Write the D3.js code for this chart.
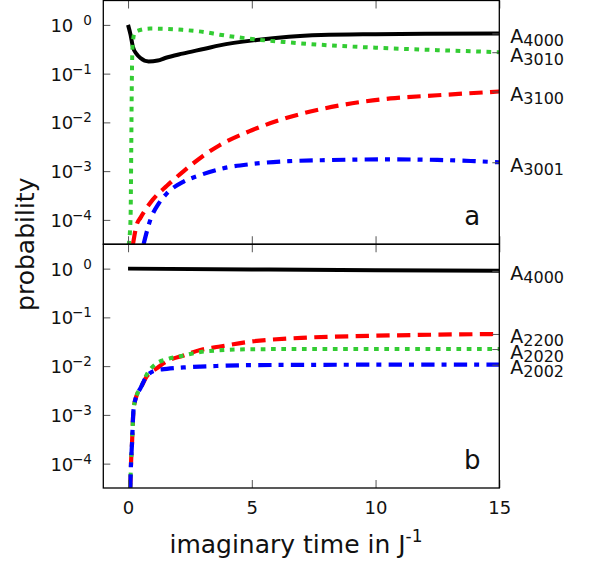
<!DOCTYPE html>
<html>
<head>
<meta charset="utf-8">
<script src="https://cdn.jsdelivr.net/npm/d3@7"></script>
<style>
  body { margin: 0; background: #fff; }
  text { font-family: "DejaVu Sans", sans-serif; fill: #111; }
</style>
</head>
<body>
<div class="chart"></div>
<script>
// ---- data ----
// panel a
var tA4000a = [0, 0.1, 0.2, 0.35, 0.5, 0.83, 1.2, 1.5, 2.2, 3.1, 3.7, 5.2, 6.5, 7.8, 10, 12, 15];
var pA4000a = [1.0, 0.63, 0.347, 0.251, 0.209, 0.178, 0.186, 0.209, 0.257, 0.324, 0.38, 0.49, 0.569, 0.617, 0.646, 0.661, 0.668];

var tA3010a = [0.02, 0.1, 0.13, 0.15, 0.18, 0.25, 0.4, 0.9, 1.5, 2.2, 3.1, 3.7, 5.2, 6.5, 7.8, 10, 12, 15];
var pA3010a = [3e-5, 1e-4, 3e-3, 0.05, 0.35, 0.65, 0.76, 0.84, 0.83, 0.79, 0.71, 0.63, 0.5, 0.437, 0.39, 0.34, 0.31, 0.275];

var tA3100a = [0.2, 0.35, 0.5, 1.0, 1.57, 2.25, 3.0, 3.7, 5.0, 7.0, 8.5, 10.6, 12.5, 15];
var pA3100a = [3.2e-5, 8e-5, 1.1e-4, 2.6e-4, 5e-4, 1e-3, 2e-3, 3.4e-3, 6.9e-3, 0.015, 0.022, 0.031, 0.036, 0.043];

var tA3001a = [0.63, 0.9, 1.25, 1.57, 2.25, 2.92, 3.7, 5, 6.5, 8, 10.6, 12.5, 14, 15];
var pA3001a = [3.2e-5, 1e-4, 2.2e-4, 3.5e-4, 6.1e-4, 8.3e-4, 1.1e-3, 1.4e-3, 1.6e-3, 1.68e-3, 1.74e-3, 1.7e-3, 1.6e-3, 1.52e-3];

// panel b
var tA4000b = [0, 5, 10, 15];
var pA4000b = [1.0, 0.96, 0.925, 0.9];

var tEarly = [0.09, 0.12, 0.16, 0.22, 0.36, 0.5];
var tLate = [0.77, 1.17, 1.57, 2.25, 2.92, 3.66, 5, 7, 10, 15];
var tA2200b = tEarly.concat(tLate);
var pA2200b = [3.2e-5, 1e-4, 2.6e-4, 1.26e-3, 2.6e-3, 3.5e-3,
               6.3e-3, 9.1e-3, 0.0126, 0.0166, 0.0214, 0.025, 0.032, 0.038, 0.042, 0.0457];
var tA2020b = tEarly.concat(tLate);
var pA2020b = [3.2e-5, 1e-4, 2.6e-4, 1.26e-3, 2.6e-3, 3.5e-3,
               7e-3, 0.0115, 0.0138, 0.0166, 0.0195, 0.021, 0.0222, 0.0224, 0.0224, 0.0224];
var tA2002b = tEarly.concat(tLate);
var pA2002b = [3.2e-5, 1e-4, 2.6e-4, 1.26e-3, 2.6e-3, 3.5e-3,
               6.4e-3, 8.3e-3, 8.8e-3, 9.4e-3, 9.8e-3, 0.0101, 0.0105, 0.0106, 0.0107, 0.0107];

var xTicks = [0, 5, 10, 15];
var yTickExps = [0, -1, -2, -3, -4];

var svgWidth = 590;
var svgHeight = 570;

var margin = { top: 0.5, bottom: 82, right: 90.7, left: 103.3 };
var width = svgWidth - margin.left - margin.right;
var panelH = (svgHeight - margin.top - margin.bottom) / 2;

var svg = d3.select(".chart")
  .append("svg")
  .attr("width", svgWidth)
  .attr("height", svgHeight);

var x = d3.scaleLinear().domain([-1, 15]).range([0, width]);

var line = function(y) {
  return d3.line()
    .x(d => x(d[0]))
    .y(d => y(d[1]))
    .curve(d3.curveMonotoneX);
};

function zip(t, p) { return t.map((v, i) => [v, p[i]]); }

var styles = {
  black: { color: "#000000", width: 4, dash: null },
  red:   { color: "#ff0000", width: 4.2, dash: "13.3,7.4" },
  green: { color: "#33cc33", width: 4, dash: "4.7,5.6" },
  blue:  { color: "#0000ff", width: 4.2, dash: "13.3,7,5,7.3" }
};

var panels = [
  { id: "a", top: margin.top, series: [
      { name: "4000", t: tA4000a, p: pA4000a, s: "black" },
      { name: "3100", t: tA3100a, p: pA3100a, s: "red" },
      { name: "3010", t: tA3010a, p: pA3010a, s: "green" },
      { name: "3001", t: tA3001a, p: pA3001a, s: "blue" }
    ] },
  { id: "b", top: margin.top + panelH, series: [
      { name: "4000", t: tA4000b, p: pA4000b, s: "black" },
      { name: "2200", t: tA2200b, p: pA2200b, s: "red" },
      { name: "2020", t: tA2020b, p: pA2020b, s: "green" },
      { name: "2002", t: tA2002b, p: pA2002b, s: "blue" }
    ] }
];

panels.forEach(function(panel, pi) {
  var g = svg.append("g")
    .attr("transform", `translate(${margin.left}, ${panel.top})`);

  var y = d3.scaleLog()
    .domain([Math.pow(10, -4.5), Math.pow(10, 0.5)])
    .range([panelH, 0]);

  g.append("clipPath").attr("id", "clip" + panel.id)
    .append("rect").attr("width", width).attr("height", panelH);

  // curves
  var curves = g.append("g").attr("clip-path", `url(#clip${panel.id})`);
  panel.series.forEach(function(sr) {
    var st = styles[sr.s];
    curves.append("path")
      .datum(zip(sr.t, sr.p))
      .attr("d", line(y))
      .attr("fill", "none")
      .attr("stroke", st.color)
      .attr("stroke-width", st.width)
      .attr("stroke-dasharray", st.dash);
  });

  // left axis, ticks pointing in
  g.append("g")
    .call(d3.axisLeft(y)
      .tickValues(yTickExps.map(e => Math.pow(10, e)))
      .tickSize(-7)
      .tickFormat(""))
    .selectAll("text").remove();

  // tick labels 10^n, right edge fixed
  yTickExps.forEach(function(e) {
    var yy = y(Math.pow(10, e));
    g.append("text")
      .attr("x", -11.5)
      .attr("y", yy)
      .attr("text-anchor", "end")
      .style("font-size", "13.5px")
      .text(e === 0 ? "0" : "\u2212" + Math.abs(e));
    g.append("text")
      .attr("x", -30)
      .attr("y", yy + 7)
      .attr("text-anchor", "end")
      .style("font-size", "18px")
      .text("10");
  });

  // right axis with series names
  var rightVals = panel.series.map(sr => sr.p[sr.p.length - 1]);
  var rAxis = g.append("g")
    .attr("transform", `translate(${width}, 0)`)
    .call(d3.axisRight(y)
      .tickValues(rightVals)
      .tickSize(-7)
      .tickPadding(11)
      .tickFormat(""));
  rAxis.selectAll("text").each(function(d, i) {
    var t = d3.select(this).attr("dy", 9).style("font-size", "19px");
    t.append("tspan").text("A");
    t.append("tspan")
      .attr("dy", 3)
      .style("font-size", "16px")
      .text(panel.series[i].name);
  });

  // x ticks on top and bottom edge
  g.append("g")
    .call(d3.axisTop(x).tickValues(xTicks).tickSize(-8).tickFormat(""));
  var xb = g.append("g")
    .attr("transform", `translate(0, ${panelH})`)
    .call(d3.axisBottom(x).tickValues(xTicks).tickSize(-8)
      .tickPadding(13)
      .tickFormat(pi === 1 ? d3.format("d") : ""));
  xb.selectAll("text").style("font-size", "18px");

  svg.selectAll(".domain").remove();
  g.selectAll(".tick line").attr("stroke", "#555").attr("stroke-width", 1);

  // frame
  g.append("rect")
    .attr("width", width)
    .attr("height", panelH)
    .attr("fill", "none")
    .attr("stroke", "#000")
    .attr("stroke-width", 1.3);

  // panel letter
  g.append("text")
    .attr("x", width - 27)
    .attr("y", panelH - 19)
    .attr("text-anchor", "middle")
    .style("font-size", "26px")
    .text(panel.id);
});

// axis titles
svg.append("text")
  .attr("transform", `translate(34, ${margin.top + panelH}) rotate(-90)`)
  .attr("text-anchor", "middle")
  .style("font-size", "25px")
  .text("probability");

var xl = svg.append("text")
  .attr("x", 296)
  .attr("y", 553)
  .attr("text-anchor", "middle")
  .style("font-size", "25px");
xl.append("tspan").text("imaginary time in J");
xl.append("tspan").attr("dy", -11).style("font-size", "17px").text("-1");
</script>
</body>
</html>
